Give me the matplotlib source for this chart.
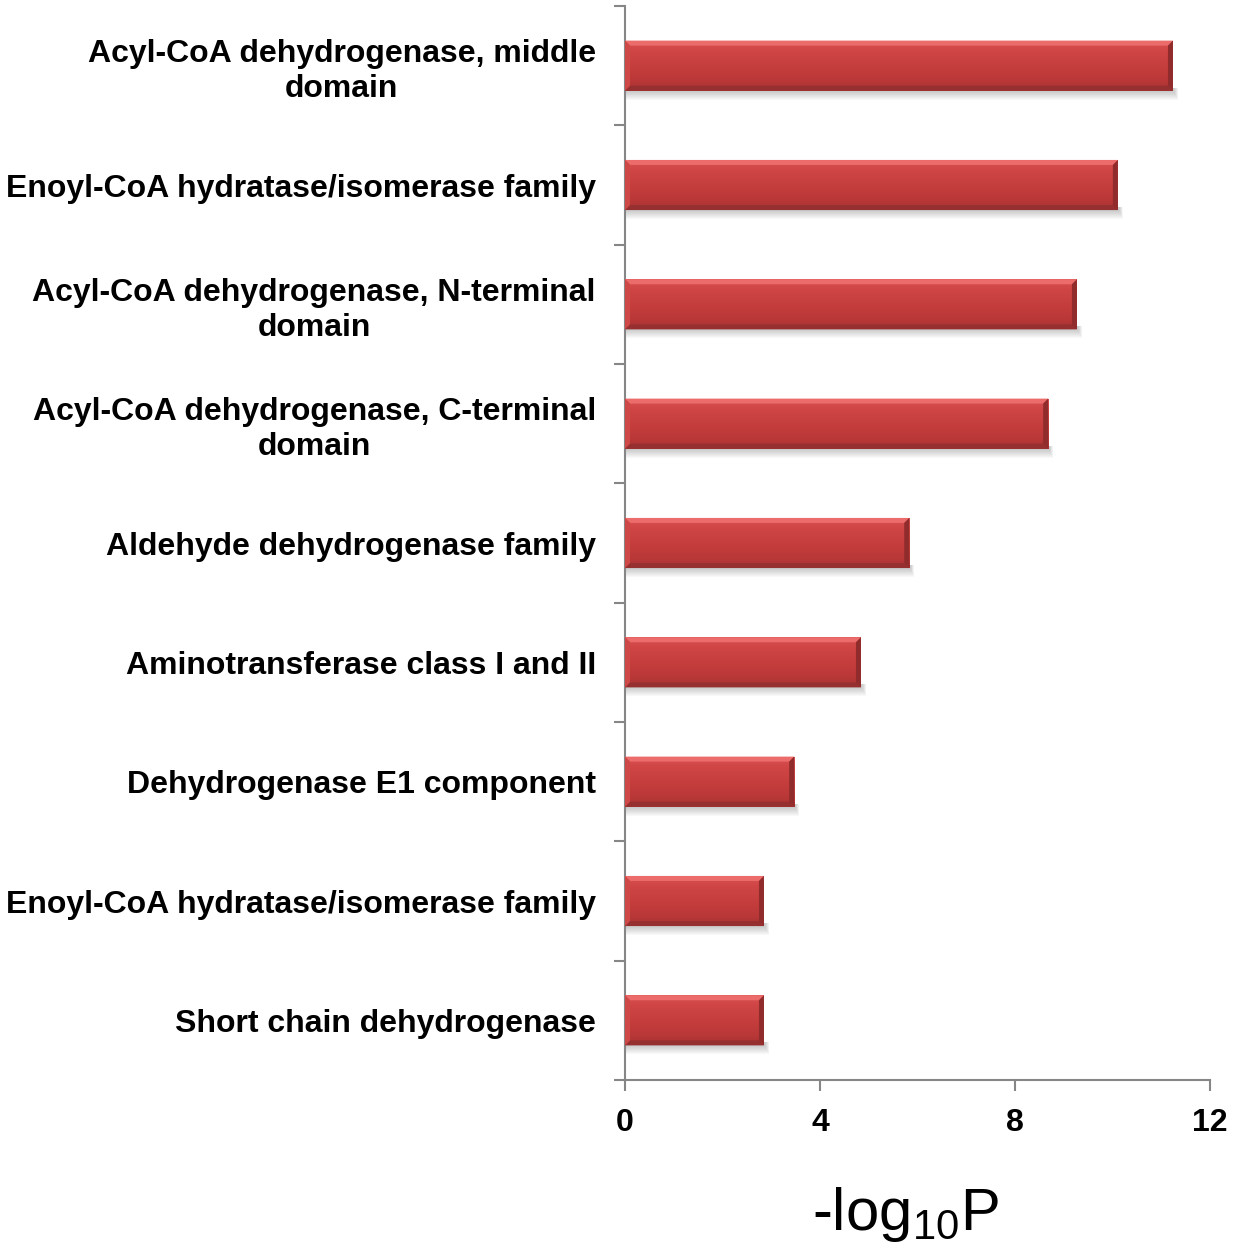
import matplotlib
matplotlib.use("Agg")
import matplotlib.pyplot as plt
import numpy as np
from matplotlib.patches import Polygon
from matplotlib.colors import LinearSegmentedColormap

plt.rcParams['font.family'] = ['Liberation Sans', 'DejaVu Sans']
plt.rcParams['mathtext.default'] = 'regular'

categories = [
    "Acyl-CoA dehydrogenase, middle\ndomain",
    "Enoyl-CoA hydratase/isomerase family",
    "Acyl-CoA dehydrogenase, N-terminal\ndomain",
    "Acyl-CoA dehydrogenase, C-terminal\ndomain",
    "Aldehyde dehydrogenase family",
    "Aminotransferase class I and II",
    "Dehydrogenase E1 component",
    "Enoyl-CoA hydratase/isomerase family",
    "Short chain dehydrogenase",
]
neg_log10_p = [11.24, 10.11, 9.27, 8.68, 5.83, 4.84, 3.47, 2.85, 2.85]
x_ticks = [0, 4, 8, 12]

W, H = 1235, 1249
fig = plt.figure(figsize=(W / 100, H / 100), dpi=100)
ax = fig.add_axes([625 / W, 1 - 1080 / H, (1210 - 625) / W, (1080 - 6) / H])

ypos = np.arange(len(categories))
bar_h = 0.42
bars = ax.barh(ypos, neg_log10_p, height=bar_h, color='#C63E3E', edgecolor='none', zorder=2)

ax.set_xlim(0, 12)
ax.set_ylim(len(categories) - 0.5, -0.5)

# pixel-to-data conversion for the bevel and shadow sizes
px_x = 12 / (1210 - 625)
px_y = len(categories) / (1080 - 6)

body_cmap = LinearSegmentedColormap.from_list(
    'body', ['#DA5252', '#D04646', '#C94141', '#C33C3C', '#BA3838', '#A83232'])

for b in bars:
    x0, y0 = b.get_x(), b.get_y()
    w, h = b.get_width(), b.get_height()
    x1, y1 = x0 + w, y0 + h  # y0 is top on the inverted axis
    # soft drop shadow below and right of the bar
    for k in range(1, 10):
        ax.add_patch(plt.Rectangle((x0 + 1 * px_x, y1 - 3 * px_y), w + k * 0.45 * px_x,
                                   (3 + k) * px_y, facecolor='#505050', alpha=0.035,
                                   edgecolor='none', zorder=1))
    # vertical gradient for the bar body
    grad = np.linspace(0, 1, 64).reshape(-1, 1)
    im = ax.imshow(grad, cmap=body_cmap, aspect='auto', extent=(x0, x1, y1, y0),
                   origin='upper', zorder=3, interpolation='bilinear')
    im.set_clip_path(b)
    bx, by = 5 * px_x, 5 * px_y
    # bevel facets
    ax.add_patch(Polygon([(x0, y0), (x1, y0), (x1 - bx, y0 + by), (x0 + bx, y0 + by)],
                         closed=True, facecolor='#EC6C6C', edgecolor='none', zorder=4))
    ax.add_patch(Polygon([(x0, y1), (x1, y1), (x1 - bx, y1 - by), (x0 + bx, y1 - by)],
                         closed=True, facecolor='#963030', edgecolor='none', zorder=4))
    ax.add_patch(Polygon([(x0, y0), (x0 + bx, y0 + by), (x0 + bx, y1 - by), (x0, y1)],
                         closed=True, facecolor='#CF4848', edgecolor='none', zorder=4))
    ax.add_patch(Polygon([(x1, y0), (x1 - bx, y0 + by), (x1 - bx, y1 - by), (x1, y1)],
                         closed=True, facecolor='#912C2C', edgecolor='none', zorder=4))

ax.set_yticks(ypos)
ax.set_yticklabels(categories, fontsize=23, fontweight='bold', multialignment='center',
                   linespacing=1.22)
ax.set_yticks(np.arange(-0.5, len(categories) + 0.5, 1), minor=True)
ax.tick_params(axis='y', which='major', length=0, pad=21)
ax.tick_params(axis='y', which='minor', length=8, width=1.5, color='#868686')

ax.set_xticks(x_ticks)
ax.set_xticklabels([str(t) for t in x_ticks], fontsize=23, fontweight='bold')
ax.tick_params(axis='x', length=8, width=1.5, color='#868686', pad=12)

for s in ['top', 'right']:
    ax.spines[s].set_visible(False)
for s in ['left', 'bottom']:
    ax.spines[s].set_color('#868686')
    ax.spines[s].set_linewidth(1.5)

ax.set_xlabel(r'-log$_{10}$P', fontsize=43)
ax.xaxis.set_label_coords(0.48, -0.098)

fig.savefig('out.png', dpi=100)
